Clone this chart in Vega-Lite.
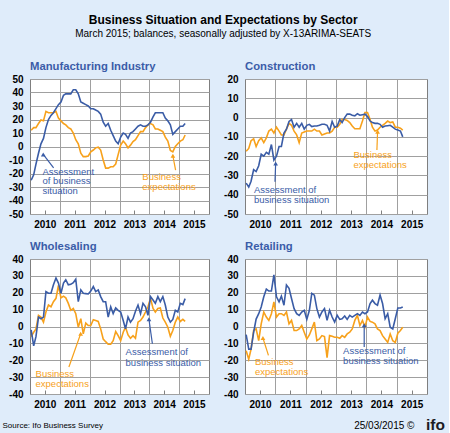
{
  "$schema": "https://vega.github.io/schema/vega-lite/v6.json",
  "background": "#dfecfa",
  "padding": {"left": 1, "top": 14, "right": 4, "bottom": 0},
  "title": {
    "text": "Business Situation and Expectations by Sector",
    "subtitle": "March 2015; balances, seasonally adjusted by X-13ARIMA-SEATS",
    "fontSize": 12, "fontWeight": "bold", "color": "#000000",
    "subtitleFontSize": 10, "subtitleColor": "#000000", "subtitlePadding": 2,
    "anchor": "middle", "frame": "bounds", "offset": 20
  },
  "datasets": {
    "man": [
      {"m":"2010-01-15","a":-25,"e":12},{"m":"2010-02-15","a":-21,"e":14},{"m":"2010-03-15","a":-13,"e":14},{"m":"2010-04-15","a":-5,"e":17},{"m":"2010-05-15","a":2,"e":19.6},{"m":"2010-06-15","a":6,"e":19},{"m":"2010-07-15","a":14,"e":26},{"m":"2010-08-15","a":20,"e":25},{"m":"2010-09-15","a":23,"e":25},{"m":"2010-10-15","a":25,"e":25},{"m":"2010-11-15","a":28,"e":26},{"m":"2010-12-15","a":31,"e":21},
      {"m":"2011-01-15","a":33,"e":19},{"m":"2011-02-15","a":38,"e":17},{"m":"2011-03-15","a":39,"e":16},{"m":"2011-04-15","a":39,"e":14},{"m":"2011-05-15","a":39,"e":13},{"m":"2011-06-15","a":42,"e":10},{"m":"2011-07-15","a":42,"e":5},{"m":"2011-08-15","a":39,"e":2},{"m":"2011-09-15","a":33,"e":-5},{"m":"2011-10-15","a":32,"e":-7.5},{"m":"2011-11-15","a":31,"e":-7.5},{"m":"2011-12-15","a":30,"e":-7},
      {"m":"2012-01-15","a":28,"e":-4},{"m":"2012-02-15","a":28,"e":-2.6},{"m":"2012-03-15","a":27,"e":-1},{"m":"2012-04-15","a":26,"e":-0.5},{"m":"2012-05-15","a":24,"e":-2.6},{"m":"2012-06-15","a":18,"e":-10},{"m":"2012-07-15","a":15,"e":-16},{"m":"2012-08-15","a":17,"e":-16},{"m":"2012-09-15","a":12,"e":-15},{"m":"2012-10-15","a":8,"e":-15},{"m":"2012-11-15","a":4,"e":-13},{"m":"2012-12-15","a":2,"e":-6},
      {"m":"2013-01-15","a":7,"e":1},{"m":"2013-02-15","a":10,"e":4},{"m":"2013-03-15","a":9,"e":2},{"m":"2013-04-15","a":6,"e":-1},{"m":"2013-05-15","a":10,"e":1},{"m":"2013-06-15","a":11,"e":3.6},{"m":"2013-07-15","a":13,"e":5},{"m":"2013-08-15","a":15,"e":8},{"m":"2013-09-15","a":16,"e":11},{"m":"2013-10-15","a":15,"e":11},{"m":"2013-11-15","a":15,"e":14},{"m":"2013-12-15","a":16,"e":16},
      {"m":"2014-01-15","a":18,"e":17},{"m":"2014-02-15","a":22,"e":16},{"m":"2014-03-15","a":25,"e":13},{"m":"2014-04-15","a":25,"e":13},{"m":"2014-05-15","a":25,"e":12},{"m":"2014-06-15","a":25,"e":11},{"m":"2014-07-15","a":21,"e":7},{"m":"2014-08-15","a":19,"e":4},{"m":"2014-09-15","a":16,"e":-3},{"m":"2014-10-15","a":9,"e":-4},{"m":"2014-11-15","a":11,"e":0},{"m":"2014-12-15","a":13,"e":2},
      {"m":"2015-01-15","a":15,"e":4},{"m":"2015-02-15","a":15,"e":5},{"m":"2015-03-15","a":17,"e":8.5}
    ],
    "con": [
      {"m":"2010-01-15","a":-34,"e":-17.5},{"m":"2010-02-15","a":-36,"e":-16},{"m":"2010-03-15","a":-33,"e":-12},{"m":"2010-04-15","a":-27,"e":-11},{"m":"2010-05-15","a":-28,"e":-15},{"m":"2010-06-15","a":-25,"e":-12},{"m":"2010-07-15","a":-19,"e":-10.5},{"m":"2010-08-15","a":-20,"e":-13},{"m":"2010-09-15","a":-18,"e":-10.5},{"m":"2010-10-15","a":-19,"e":-7},{"m":"2010-11-15","a":-14,"e":-6},{"m":"2010-12-15","a":-22,"e":-8},
      {"m":"2011-01-15","a":-20,"e":-5},{"m":"2011-02-15","a":-15,"e":-7},{"m":"2011-03-15","a":-15,"e":-9},{"m":"2011-04-15","a":-8,"e":-9},{"m":"2011-05-15","a":-6,"e":-6},{"m":"2011-06-15","a":-2,"e":-3},{"m":"2011-07-15","a":-1,"e":-4},{"m":"2011-08-15","a":-5,"e":-7},{"m":"2011-09-15","a":-3,"e":-9},{"m":"2011-10-15","a":-5,"e":-13},{"m":"2011-11-15","a":-3,"e":-8},{"m":"2011-12-15","a":-6,"e":-7.5},
      {"m":"2012-01-15","a":-4,"e":-7},{"m":"2012-02-15","a":-3.5,"e":-7},{"m":"2012-03-15","a":-4.7,"e":-7},{"m":"2012-04-15","a":-4.4,"e":-6},{"m":"2012-05-15","a":-4.4,"e":-7},{"m":"2012-06-15","a":-4,"e":-7},{"m":"2012-07-15","a":-3.5,"e":-9},{"m":"2012-08-15","a":-3.5,"e":-8.5},{"m":"2012-09-15","a":-4,"e":-8},{"m":"2012-10-15","a":-7,"e":-8},{"m":"2012-11-15","a":-2,"e":-7},{"m":"2012-12-15","a":-5,"e":-5},
      {"m":"2013-01-15","a":-4.4,"e":-5},{"m":"2013-02-15","a":-1,"e":-3.5},{"m":"2013-03-15","a":-2.6,"e":-1},{"m":"2013-04-15","a":0,"e":-1},{"m":"2013-05-15","a":1.8,"e":-1.5},{"m":"2013-06-15","a":1.8,"e":-2.6},{"m":"2013-07-15","a":1.2,"e":-4.4},{"m":"2013-08-15","a":0.9,"e":-5.8},{"m":"2013-09-15","a":2,"e":-5.8},{"m":"2013-10-15","a":1.2,"e":-5.8},{"m":"2013-11-15","a":1.5,"e":-1.8},{"m":"2013-12-15","a":1.8,"e":2.6},
      {"m":"2014-01-15","a":0.5,"e":2.6},{"m":"2014-02-15","a":-1.8,"e":-1},{"m":"2014-03-15","a":-2.6,"e":-5},{"m":"2014-04-15","a":-3,"e":-7},{"m":"2014-05-15","a":-3,"e":-6.5},{"m":"2014-06-15","a":-3.5,"e":-5},{"m":"2014-07-15","a":-5,"e":-4},{"m":"2014-08-15","a":-4.4,"e":-3},{"m":"2014-09-15","a":-4.2,"e":-1.8},{"m":"2014-10-15","a":-4,"e":-2.6},{"m":"2014-11-15","a":-5,"e":-2.3},{"m":"2014-12-15","a":-6,"e":-5},
      {"m":"2015-01-15","a":-6.5,"e":-5},{"m":"2015-02-15","a":-7,"e":-5.5},{"m":"2015-03-15","a":-10,"e":-6.5}
    ],
    "who": [
      {"m":"2010-01-15","a":-2,"e":-6},{"m":"2010-02-15","a":-11.5,"e":-3.4},{"m":"2010-03-15","a":-6,"e":-1.4},{"m":"2010-04-15","a":5.6,"e":6.6},{"m":"2010-05-15","a":4.6,"e":5.6},{"m":"2010-06-15","a":5.6,"e":2.6},{"m":"2010-07-15","a":20.7,"e":8.6},{"m":"2010-08-15","a":19.7,"e":12.7},{"m":"2010-09-15","a":19.7,"e":11.7},{"m":"2010-10-15","a":24.7,"e":14.7},{"m":"2010-11-15","a":28.7,"e":16.7},{"m":"2010-12-15","a":25.7,"e":24.3},
      {"m":"2011-01-15","a":19.7,"e":17},{"m":"2011-02-15","a":25.7,"e":18},{"m":"2011-03-15","a":27.7,"e":17},{"m":"2011-04-15","a":24.7,"e":13.7},{"m":"2011-05-15","a":25,"e":9.6},{"m":"2011-06-15","a":26,"e":10.7},{"m":"2011-07-15","a":28,"e":7.6},{"m":"2011-08-15","a":14.7,"e":-0.4},{"m":"2011-09-15","a":21.7,"e":4.6},{"m":"2011-10-15","a":19.7,"e":-4.4},{"m":"2011-11-15","a":19.5,"e":2},{"m":"2011-12-15","a":19.3,"e":0.6},
      {"m":"2012-01-15","a":21,"e":0.6},{"m":"2012-02-15","a":23.7,"e":4},{"m":"2012-03-15","a":20.7,"e":3.5},{"m":"2012-04-15","a":21.7,"e":3},{"m":"2012-05-15","a":17.7,"e":-1.4},{"m":"2012-06-15","a":14.7,"e":-7.4},{"m":"2012-07-15","a":14.7,"e":-9},{"m":"2012-08-15","a":5.6,"e":-10.5},{"m":"2012-09-15","a":11.7,"e":-10.5},{"m":"2012-10-15","a":7.6,"e":-8.4},{"m":"2012-11-15","a":11,"e":-3},{"m":"2012-12-15","a":9.6,"e":-5.4},
      {"m":"2013-01-15","a":8.6,"e":-8.4},{"m":"2013-02-15","a":3.6,"e":-3.4},{"m":"2013-03-15","a":-1.4,"e":-0.4},{"m":"2013-04-15","a":5.6,"e":-5},{"m":"2013-05-15","a":2.6,"e":-7},{"m":"2013-06-15","a":4.6,"e":-5.4},{"m":"2013-07-15","a":9,"e":-7},{"m":"2013-08-15","a":12.7,"e":2.6},{"m":"2013-09-15","a":7.6,"e":3.6},{"m":"2013-10-15","a":13.7,"e":5.6},{"m":"2013-11-15","a":11.7,"e":8.6},{"m":"2013-12-15","a":6.6,"e":11.7},
      {"m":"2014-01-15","a":17.7,"e":16.7},{"m":"2014-02-15","a":15.7,"e":10.7},{"m":"2014-03-15","a":13.7,"e":8.6},{"m":"2014-04-15","a":17.7,"e":10.7},{"m":"2014-05-15","a":14.7,"e":11},{"m":"2014-06-15","a":17.7,"e":5},{"m":"2014-07-15","a":12.7,"e":2.6},{"m":"2014-08-15","a":5.6,"e":-0.4},{"m":"2014-09-15","a":2.6,"e":-5.8},{"m":"2014-10-15","a":4.2,"e":-2.4},{"m":"2014-11-15","a":9.6,"e":2.6},{"m":"2014-12-15","a":8.6,"e":5.6},
      {"m":"2015-01-15","a":13.7,"e":3},{"m":"2015-02-15","a":13,"e":4.2},{"m":"2015-03-15","a":16.5,"e":3}
    ],
    "ret": [
      {"m":"2010-01-15","a":-4.8,"e":-14.4},{"m":"2010-02-15","a":-13.4,"e":-19.4},{"m":"2010-03-15","a":-13.4,"e":-13.4},{"m":"2010-04-15","a":-3.4,"e":-2.4},{"m":"2010-05-15","a":4.4,"e":-1.4},{"m":"2010-06-15","a":7.6,"e":-8.4},{"m":"2010-07-15","a":11.6,"e":1.6},{"m":"2010-08-15","a":17.6,"e":8.6},{"m":"2010-09-15","a":22.2,"e":5.6},{"m":"2010-10-15","a":21,"e":3.6},{"m":"2010-11-15","a":21,"e":7.6},{"m":"2010-12-15","a":30.6,"e":14.6},
      {"m":"2011-01-15","a":17.6,"e":5.6},{"m":"2011-02-15","a":14.6,"e":7.6},{"m":"2011-03-15","a":18,"e":7.6},{"m":"2011-04-15","a":12.6,"e":6.6},{"m":"2011-05-15","a":24.6,"e":8.6},{"m":"2011-06-15","a":22.6,"e":1.6},{"m":"2011-07-15","a":16.6,"e":3.6},{"m":"2011-08-15","a":10.6,"e":-2.4},{"m":"2011-09-15","a":7.6,"e":-2.4},{"m":"2011-10-15","a":6.6,"e":-1.4},{"m":"2011-11-15","a":8.6,"e":0.6},{"m":"2011-12-15","a":9.6,"e":-3.4},
      {"m":"2012-01-15","a":4.2,"e":-7.4},{"m":"2012-02-15","a":9.6,"e":-5},{"m":"2012-03-15","a":19.6,"e":-1.4},{"m":"2012-04-15","a":18.6,"e":2.6},{"m":"2012-05-15","a":10.6,"e":-8.4},{"m":"2012-06-15","a":5.6,"e":-7.4},{"m":"2012-07-15","a":8.6,"e":-5.4},{"m":"2012-08-15","a":10.6,"e":-6},{"m":"2012-09-15","a":3.6,"e":-18.4},{"m":"2012-10-15","a":9.6,"e":-5.4},{"m":"2012-11-15","a":5.6,"e":-5.8},{"m":"2012-12-15","a":2.6,"e":-6.4},
      {"m":"2013-01-15","a":6.6,"e":-6.4},{"m":"2013-02-15","a":4.2,"e":-7},{"m":"2013-03-15","a":4.6,"e":-5.4},{"m":"2013-04-15","a":6.2,"e":-6.4},{"m":"2013-05-15","a":4.2,"e":-4.4},{"m":"2013-06-15","a":6.6,"e":-3.4},{"m":"2013-07-15","a":5.6,"e":-1.4},{"m":"2013-08-15","a":6.6,"e":3.6},{"m":"2013-09-15","a":7.6,"e":6.6},{"m":"2013-10-15","a":6.6,"e":0.6},{"m":"2013-11-15","a":8.6,"e":3.6},{"m":"2013-12-15","a":7.6,"e":-0.4},
      {"m":"2014-01-15","a":8.6,"e":5.6},{"m":"2014-02-15","a":13.6,"e":3},{"m":"2014-03-15","a":15.6,"e":2.6},{"m":"2014-04-15","a":13.6,"e":1.6},{"m":"2014-05-15","a":12.6,"e":-1.4},{"m":"2014-06-15","a":18.6,"e":-2.4},{"m":"2014-07-15","a":13.6,"e":-5.4},{"m":"2014-08-15","a":4.6,"e":-7.4},{"m":"2014-09-15","a":7.6,"e":-9.4},{"m":"2014-10-15","a":-0.4,"e":-4.4},{"m":"2014-11-15","a":-1.4,"e":-8.4},{"m":"2014-12-15","a":4.6,"e":-9.4},
      {"m":"2015-01-15","a":11,"e":-4},{"m":"2015-02-15","a":11,"e":-2.4},{"m":"2015-03-15","a":11.6,"e":-0.4}
    ],
    "ann": [
      {"p":"man","x":"2010-06-03","y":-18.8,"t":"Assessment","s":"a"},
      {"p":"man","x":"2010-06-03","y":-25.7,"t":"of business","s":"a"},
      {"p":"man","x":"2010-06-03","y":-33.1,"t":"situation","s":"a"},
      {"p":"man","x":"2013-10-07","y":-22.5,"t":"Business","s":"e"},
      {"p":"man","x":"2013-10-07","y":-29.9,"t":"expectations","s":"e"},
      {"p":"con","x":"2013-07-30","y":-19.4,"t":"Business","s":"e"},
      {"p":"con","x":"2013-07-30","y":-24.7,"t":"expectations","s":"e"},
      {"p":"con","x":"2010-04-18","y":-37.7,"t":"Assessment of","s":"a"},
      {"p":"con","x":"2010-04-18","y":-42.9,"t":"business situation","s":"a"},
      {"p":"who","x":"2013-03-16","y":-15.1,"t":"Assessment of","s":"a"},
      {"p":"who","x":"2013-03-16","y":-21.5,"t":"business situation","s":"a"},
      {"p":"who","x":"2010-03-10","y":-28,"t":"Business","s":"e"},
      {"p":"who","x":"2010-03-10","y":-34.3,"t":"expectations","s":"e"},
      {"p":"ret","x":"2010-05-01","y":-21,"t":"Business","s":"e"},
      {"p":"ret","x":"2010-05-01","y":-27,"t":"expectations","s":"e"},
      {"p":"ret","x":"2013-03-27","y":-14.5,"t":"Assessment of","s":"a"},
      {"p":"ret","x":"2013-03-27","y":-20.4,"t":"business situation","s":"a"}
    ],
    "arr": [
      {"p":"man","x":"2010-10-17","y":-15.8,"x2":"2010-06-12","y2":-5.9,"s":"a"},
      {"p":"man","x":"2014-11-18","y":-17.5,"x2":"2014-10-16","y2":-6.9,"s":"e"},
      {"p":"con","x":"2014-05-08","y":-16.8,"x2":"2014-05-16","y2":-7.3,"s":"e"},
      {"p":"con","x":"2010-12-28","y":-33.3,"x2":"2011-01-05","y2":-23.8,"s":"a"},
      {"p":"who","x":"2014-02-07","y":-10.2,"x2":"2013-12-27","y2":4.3,"s":"a"},
      {"p":"who","x":"2011-04-22","y":-24,"x2":"2011-09-13","y2":-4.3,"s":"e"},
      {"p":"ret","x":"2010-10-10","y":-17.1,"x2":"2010-08-05","y2":-6.8,"s":"e"},
      {"p":"ret","x":"2013-12-06","y":-12.1,"x2":"2013-12-06","y2":0.7,"s":"a"}
    ]
  },
  "bounds": "flush",
  "columns": 2,
  "spacing": {"row": 45, "column": 36},
  "concat": [
    {
      "width": 179, "height": 135,
      "title": {"text": "Manufacturing Industry", "anchor": "start", "frame": "group", "fontSize": 11.3, "fontWeight": "bold", "color": "#3b5ca8", "offset": 2},
      "resolve": {"axis": {"x": "independent"}},
      "layer": [
        {"data": {"name": "man"}, "mark": {"type": "line", "color": "#f7a11b", "strokeWidth": 1.6},
         "encoding": {
           "x": {"field": "m", "type": "temporal", "title": null, "scale": {"domain": [{"year": 2010, "month": 1, "date": 1}, {"year": 2016, "month": 1, "date": 1}], "nice": false},
                 "axis": {"orient": "bottom", "values": [{"year": 2011, "month": 1, "date": 1}, {"year": 2012, "month": 1, "date": 1}, {"year": 2013, "month": 1, "date": 1}, {"year": 2014, "month": 1, "date": 1}, {"year": 2015, "month": 1, "date": 1}], "grid": true, "labels": false, "ticks": false, "domain": false}},
           "y": {"field": "e", "type": "quantitative", "title": null, "scale": {"domain": [-50, 50], "nice": false, "zero": false},
                 "axis": {"values": [-50, -40, -30, -20, -10, 0, 10, 20, 30, 40, 50], "grid": true, "ticks": false, "domain": false, "labelPadding": 7, "labelOverlap": false}}
         }},
        {"data": {"name": "man"}, "mark": {"type": "line", "color": "#3a5ca6", "strokeWidth": 1.6},
         "encoding": {
           "x": {"field": "m", "type": "temporal", "title": null, "scale": {"domain": [{"year": 2010, "month": 1, "date": 1}, {"year": 2016, "month": 1, "date": 1}], "nice": false},
                 "axis": {"orient": "bottom", "values": [{"year": 2010, "month": 7, "date": 1}, {"year": 2011, "month": 7, "date": 1}, {"year": 2012, "month": 7, "date": 1}, {"year": 2013, "month": 7, "date": 1}, {"year": 2014, "month": 7, "date": 1}, {"year": 2015, "month": 7, "date": 1}], "format": "%Y", "grid": false, "ticks": true, "tickSize": -4, "tickColor": "#808080", "labelPadding": 9, "labelFlush": false, "labelOverlap": false, "domain": false}},
           "y": {"field": "a", "type": "quantitative", "title": null, "scale": {"domain": [-50, 50], "nice": false, "zero": false},
                 "axis": {"values": [-50, -40, -30, -20, -10, 0, 10, 20, 30, 40, 50], "grid": true, "ticks": false, "domain": false, "labelPadding": 7, "labelOverlap": false}}
         }},
        {"data": {"name": "arr"}, "transform": [{"filter": "datum.p === 'man'"}], "mark": {"type": "rule", "strokeWidth": 1.2},
         "encoding": {"x": {"field": "x", "type": "temporal", "axis": null}, "y": {"field": "y", "type": "quantitative", "title": null, "axis": {"values": [-50, -40, -30, -20, -10, 0, 10, 20, 30, 40, 50], "grid": true, "ticks": false, "domain": false, "labelPadding": 7, "labelOverlap": false}}, "x2": {"field": "x2"}, "y2": {"field": "y2"},
           "color": {"field": "s", "type": "nominal", "scale": {"domain": ["a", "e"], "range": ["#3a5ca6", "#f7a11b"]}, "legend": null}}},
        {"data": {"name": "arr"}, "transform": [{"filter": "datum.p === 'man'"}], "mark": {"type": "point", "shape": "triangle-up", "filled": true, "size": 22, "opacity": 1},
         "encoding": {"x": {"field": "x2", "type": "temporal", "axis": null}, "y": {"field": "y2", "type": "quantitative", "title": null, "axis": {"values": [-50, -40, -30, -20, -10, 0, 10, 20, 30, 40, 50], "grid": true, "ticks": false, "domain": false, "labelPadding": 7, "labelOverlap": false}},
           "color": {"field": "s", "type": "nominal", "scale": {"domain": ["a", "e"], "range": ["#3a5ca6", "#f7a11b"]}, "legend": null}}},
        {"data": {"name": "ann"}, "transform": [{"filter": "datum.p === 'man'"}], "mark": {"type": "text", "align": "left", "baseline": "middle", "fontSize": 9.5},
         "encoding": {"x": {"field": "x", "type": "temporal", "axis": null}, "y": {"field": "y", "type": "quantitative", "title": null, "axis": {"values": [-50, -40, -30, -20, -10, 0, 10, 20, 30, 40, 50], "grid": true, "ticks": false, "domain": false, "labelPadding": 7, "labelOverlap": false}}, "text": {"field": "t"},
           "color": {"field": "s", "type": "nominal", "scale": {"domain": ["a", "e"], "range": ["#3a5ca6", "#f7a11b"]}, "legend": null}}}
      ]
    },
    {
      "width": 182, "height": 135,
      "title": {"text": "Construction", "anchor": "start", "frame": "group", "fontSize": 11.3, "fontWeight": "bold", "color": "#3b5ca8", "offset": 2},
      "resolve": {"axis": {"x": "independent"}},
      "layer": [
        {"data": {"name": "con"}, "mark": {"type": "line", "color": "#f7a11b", "strokeWidth": 1.6},
         "encoding": {
           "x": {"field": "m", "type": "temporal", "title": null, "scale": {"domain": [{"year": 2010, "month": 1, "date": 1}, {"year": 2016, "month": 1, "date": 1}], "nice": false},
                 "axis": {"orient": "bottom", "values": [{"year": 2011, "month": 1, "date": 1}, {"year": 2012, "month": 1, "date": 1}, {"year": 2013, "month": 1, "date": 1}, {"year": 2014, "month": 1, "date": 1}, {"year": 2015, "month": 1, "date": 1}], "grid": true, "labels": false, "ticks": false, "domain": false}},
           "y": {"field": "e", "type": "quantitative", "title": null, "scale": {"domain": [-50, 20], "nice": false, "zero": false},
                 "axis": {"values": [-50, -40, -30, -20, -10, 0, 10, 20], "grid": true, "ticks": false, "domain": false, "labelPadding": 7, "labelOverlap": false}}
         }},
        {"data": {"name": "con"}, "mark": {"type": "line", "color": "#3a5ca6", "strokeWidth": 1.6},
         "encoding": {
           "x": {"field": "m", "type": "temporal", "title": null, "scale": {"domain": [{"year": 2010, "month": 1, "date": 1}, {"year": 2016, "month": 1, "date": 1}], "nice": false},
                 "axis": {"orient": "bottom", "values": [{"year": 2010, "month": 7, "date": 1}, {"year": 2011, "month": 7, "date": 1}, {"year": 2012, "month": 7, "date": 1}, {"year": 2013, "month": 7, "date": 1}, {"year": 2014, "month": 7, "date": 1}, {"year": 2015, "month": 7, "date": 1}], "format": "%Y", "grid": false, "ticks": true, "tickSize": -4, "tickColor": "#808080", "labelPadding": 9, "labelFlush": false, "labelOverlap": false, "domain": false}},
           "y": {"field": "a", "type": "quantitative", "title": null, "scale": {"domain": [-50, 20], "nice": false, "zero": false},
                 "axis": {"values": [-50, -40, -30, -20, -10, 0, 10, 20], "grid": true, "ticks": false, "domain": false, "labelPadding": 7, "labelOverlap": false}}
         }},
        {"data": {"name": "arr"}, "transform": [{"filter": "datum.p === 'con'"}], "mark": {"type": "rule", "strokeWidth": 1.2},
         "encoding": {"x": {"field": "x", "type": "temporal", "axis": null}, "y": {"field": "y", "type": "quantitative", "title": null, "axis": {"values": [-50, -40, -30, -20, -10, 0, 10, 20], "grid": true, "ticks": false, "domain": false, "labelPadding": 7, "labelOverlap": false}}, "x2": {"field": "x2"}, "y2": {"field": "y2"},
           "color": {"field": "s", "type": "nominal", "scale": {"domain": ["a", "e"], "range": ["#3a5ca6", "#f7a11b"]}, "legend": null}}},
        {"data": {"name": "arr"}, "transform": [{"filter": "datum.p === 'con'"}], "mark": {"type": "point", "shape": "triangle-up", "filled": true, "size": 22, "opacity": 1},
         "encoding": {"x": {"field": "x2", "type": "temporal", "axis": null}, "y": {"field": "y2", "type": "quantitative", "title": null, "axis": {"values": [-50, -40, -30, -20, -10, 0, 10, 20], "grid": true, "ticks": false, "domain": false, "labelPadding": 7, "labelOverlap": false}},
           "color": {"field": "s", "type": "nominal", "scale": {"domain": ["a", "e"], "range": ["#3a5ca6", "#f7a11b"]}, "legend": null}}},
        {"data": {"name": "ann"}, "transform": [{"filter": "datum.p === 'con'"}], "mark": {"type": "text", "align": "left", "baseline": "middle", "fontSize": 9.5},
         "encoding": {"x": {"field": "x", "type": "temporal", "axis": null}, "y": {"field": "y", "type": "quantitative", "title": null, "axis": {"values": [-50, -40, -30, -20, -10, 0, 10, 20], "grid": true, "ticks": false, "domain": false, "labelPadding": 7, "labelOverlap": false}}, "text": {"field": "t"},
           "color": {"field": "s", "type": "nominal", "scale": {"domain": ["a", "e"], "range": ["#3a5ca6", "#f7a11b"]}, "legend": null}}}
      ]
    },
    {
      "width": 179, "height": 135,
      "title": {"text": "Wholesaling", "anchor": "start", "frame": "group", "fontSize": 11.3, "fontWeight": "bold", "color": "#3b5ca8", "offset": 2},
      "resolve": {"axis": {"x": "independent"}},
      "layer": [
        {"data": {"name": "who"}, "mark": {"type": "line", "color": "#f7a11b", "strokeWidth": 1.6},
         "encoding": {
           "x": {"field": "m", "type": "temporal", "title": null, "scale": {"domain": [{"year": 2010, "month": 1, "date": 1}, {"year": 2016, "month": 1, "date": 1}], "nice": false},
                 "axis": {"orient": "bottom", "values": [{"year": 2011, "month": 1, "date": 1}, {"year": 2012, "month": 1, "date": 1}, {"year": 2013, "month": 1, "date": 1}, {"year": 2014, "month": 1, "date": 1}, {"year": 2015, "month": 1, "date": 1}], "grid": true, "labels": false, "ticks": false, "domain": false}},
           "y": {"field": "e", "type": "quantitative", "title": null, "scale": {"domain": [-40, 40], "nice": false, "zero": false},
                 "axis": {"values": [-40, -30, -20, -10, 0, 10, 20, 30, 40], "grid": true, "ticks": false, "domain": false, "labelPadding": 7, "labelOverlap": false}}
         }},
        {"data": {"name": "who"}, "mark": {"type": "line", "color": "#3a5ca6", "strokeWidth": 1.6},
         "encoding": {
           "x": {"field": "m", "type": "temporal", "scale": {"domain": [{"year": 2010, "month": 1, "date": 1}, {"year": 2016, "month": 1, "date": 1}], "nice": false},
                 "title": "Source: Ifo Business Survey",
                 "axis": {"orient": "bottom", "values": [{"year": 2010, "month": 7, "date": 1}, {"year": 2011, "month": 7, "date": 1}, {"year": 2012, "month": 7, "date": 1}, {"year": 2013, "month": 7, "date": 1}, {"year": 2014, "month": 7, "date": 1}, {"year": 2015, "month": 7, "date": 1}], "format": "%Y", "grid": false, "ticks": true, "tickSize": -4, "tickColor": "#808080", "labelPadding": 9, "labelFlush": false, "labelOverlap": false, "domain": false,
                          "titleX": -28, "titleY": 31, "titleAlign": "left", "titleBaseline": "middle", "titleFontSize": 8, "titleFontWeight": "normal", "titleColor": "#000000"}},
           "y": {"field": "a", "type": "quantitative", "title": null, "scale": {"domain": [-40, 40], "nice": false, "zero": false},
                 "axis": {"values": [-40, -30, -20, -10, 0, 10, 20, 30, 40], "grid": true, "ticks": false, "domain": false, "labelPadding": 7, "labelOverlap": false}}
         }},
        {"data": {"name": "arr"}, "transform": [{"filter": "datum.p === 'who'"}], "mark": {"type": "rule", "strokeWidth": 1.2},
         "encoding": {"x": {"field": "x", "type": "temporal", "axis": null}, "y": {"field": "y", "type": "quantitative", "title": null, "axis": {"values": [-40, -30, -20, -10, 0, 10, 20, 30, 40], "grid": true, "ticks": false, "domain": false, "labelPadding": 7, "labelOverlap": false}}, "x2": {"field": "x2"}, "y2": {"field": "y2"},
           "color": {"field": "s", "type": "nominal", "scale": {"domain": ["a", "e"], "range": ["#3a5ca6", "#f7a11b"]}, "legend": null}}},
        {"data": {"name": "arr"}, "transform": [{"filter": "datum.p === 'who'"}], "mark": {"type": "point", "shape": "triangle-up", "filled": true, "size": 22, "opacity": 1},
         "encoding": {"x": {"field": "x2", "type": "temporal", "axis": null}, "y": {"field": "y2", "type": "quantitative", "title": null, "axis": {"values": [-40, -30, -20, -10, 0, 10, 20, 30, 40], "grid": true, "ticks": false, "domain": false, "labelPadding": 7, "labelOverlap": false}},
           "color": {"field": "s", "type": "nominal", "scale": {"domain": ["a", "e"], "range": ["#3a5ca6", "#f7a11b"]}, "legend": null}}},
        {"data": {"name": "ann"}, "transform": [{"filter": "datum.p === 'who'"}], "mark": {"type": "text", "align": "left", "baseline": "middle", "fontSize": 9.5},
         "encoding": {"x": {"field": "x", "type": "temporal", "axis": null}, "y": {"field": "y", "type": "quantitative", "title": null, "axis": {"values": [-40, -30, -20, -10, 0, 10, 20, 30, 40], "grid": true, "ticks": false, "domain": false, "labelPadding": 7, "labelOverlap": false}}, "text": {"field": "t"},
           "color": {"field": "s", "type": "nominal", "scale": {"domain": ["a", "e"], "range": ["#3a5ca6", "#f7a11b"]}, "legend": null}}}
      ]
    },
    {
      "width": 182, "height": 135,
      "title": {"text": "Retailing", "anchor": "start", "frame": "group", "fontSize": 11.3, "fontWeight": "bold", "color": "#3b5ca8", "offset": 2},
      "resolve": {"axis": {"x": "independent"}},
      "layer": [
        {"data": {"name": "ret"}, "mark": {"type": "line", "color": "#f7a11b", "strokeWidth": 1.6},
         "encoding": {
           "x": {"field": "m", "type": "temporal", "scale": {"domain": [{"year": 2010, "month": 1, "date": 1}, {"year": 2016, "month": 1, "date": 1}], "nice": false},
                 "title": "ifo",
                 "axis": {"orient": "bottom", "values": [{"year": 2011, "month": 1, "date": 1}, {"year": 2012, "month": 1, "date": 1}, {"year": 2013, "month": 1, "date": 1}, {"year": 2014, "month": 1, "date": 1}, {"year": 2015, "month": 1, "date": 1}], "grid": true, "labels": false, "ticks": false, "domain": false,
                          "titleX": 180.5, "titleY": 30, "titleAlign": "left", "titleBaseline": "middle", "titleFontSize": 15.5, "titleFontWeight": "bold", "titleColor": "#1c1c24"}},
           "y": {"field": "e", "type": "quantitative", "title": null, "scale": {"domain": [-40, 40], "nice": false, "zero": false},
                 "axis": {"values": [-40, -30, -20, -10, 0, 10, 20, 30, 40], "grid": true, "ticks": false, "domain": false, "labelPadding": 7, "labelOverlap": false}}
         }},
        {"data": {"name": "ret"}, "mark": {"type": "line", "color": "#3a5ca6", "strokeWidth": 1.6},
         "encoding": {
           "x": {"field": "m", "type": "temporal", "scale": {"domain": [{"year": 2010, "month": 1, "date": 1}, {"year": 2016, "month": 1, "date": 1}], "nice": false},
                 "title": "25/03/2015 ©",
                 "axis": {"orient": "bottom", "values": [{"year": 2010, "month": 7, "date": 1}, {"year": 2011, "month": 7, "date": 1}, {"year": 2012, "month": 7, "date": 1}, {"year": 2013, "month": 7, "date": 1}, {"year": 2014, "month": 7, "date": 1}, {"year": 2015, "month": 7, "date": 1}], "format": "%Y", "grid": false, "ticks": true, "tickSize": -4, "tickColor": "#808080", "labelPadding": 9, "labelFlush": false, "labelOverlap": false, "domain": false,
                          "titleX": 108.7, "titleY": 31, "titleAlign": "left", "titleBaseline": "middle", "titleFontSize": 10, "titleFontWeight": "normal", "titleColor": "#000000"}},
           "y": {"field": "a", "type": "quantitative", "title": null, "scale": {"domain": [-40, 40], "nice": false, "zero": false},
                 "axis": {"values": [-40, -30, -20, -10, 0, 10, 20, 30, 40], "grid": true, "ticks": false, "domain": false, "labelPadding": 7, "labelOverlap": false}}
         }},
        {"data": {"name": "arr"}, "transform": [{"filter": "datum.p === 'ret'"}], "mark": {"type": "rule", "strokeWidth": 1.2},
         "encoding": {"x": {"field": "x", "type": "temporal", "axis": null}, "y": {"field": "y", "type": "quantitative", "title": null, "axis": {"values": [-40, -30, -20, -10, 0, 10, 20, 30, 40], "grid": true, "ticks": false, "domain": false, "labelPadding": 7, "labelOverlap": false}}, "x2": {"field": "x2"}, "y2": {"field": "y2"},
           "color": {"field": "s", "type": "nominal", "scale": {"domain": ["a", "e"], "range": ["#3a5ca6", "#f7a11b"]}, "legend": null}}},
        {"data": {"name": "arr"}, "transform": [{"filter": "datum.p === 'ret'"}], "mark": {"type": "point", "shape": "triangle-up", "filled": true, "size": 22, "opacity": 1},
         "encoding": {"x": {"field": "x2", "type": "temporal", "axis": null}, "y": {"field": "y2", "type": "quantitative", "title": null, "axis": {"values": [-40, -30, -20, -10, 0, 10, 20, 30, 40], "grid": true, "ticks": false, "domain": false, "labelPadding": 7, "labelOverlap": false}},
           "color": {"field": "s", "type": "nominal", "scale": {"domain": ["a", "e"], "range": ["#3a5ca6", "#f7a11b"]}, "legend": null}}},
        {"data": {"name": "ann"}, "transform": [{"filter": "datum.p === 'ret'"}], "mark": {"type": "text", "align": "left", "baseline": "middle", "fontSize": 9.5},
         "encoding": {"x": {"field": "x", "type": "temporal", "axis": null}, "y": {"field": "y", "type": "quantitative", "title": null, "axis": {"values": [-40, -30, -20, -10, 0, 10, 20, 30, 40], "grid": true, "ticks": false, "domain": false, "labelPadding": 7, "labelOverlap": false}}, "text": {"field": "t"},
           "color": {"field": "s", "type": "nominal", "scale": {"domain": ["a", "e"], "range": ["#3a5ca6", "#f7a11b"]}, "legend": null}}}
      ]
    }
  ],
  "config": {
    "font": "Liberation Sans",
    "locale": {"number": {"decimal": ".", "thousands": ",", "grouping": [3], "currency": ["$", ""], "minus": "-"}},
    "view": {"stroke": "#7f7f7f", "strokeWidth": 1, "fill": "#ffffff"},
    "axis": {"labelFont": "Liberation Sans", "labelFontSize": 10, "labelFontWeight": "bold", "labelColor": "#000000", "gridColor": "#a0a0a0", "gridWidth": 1, "domain": false, "titleFont": "Liberation Sans"},
    "title": {"font": "Liberation Sans"}
  }
}
